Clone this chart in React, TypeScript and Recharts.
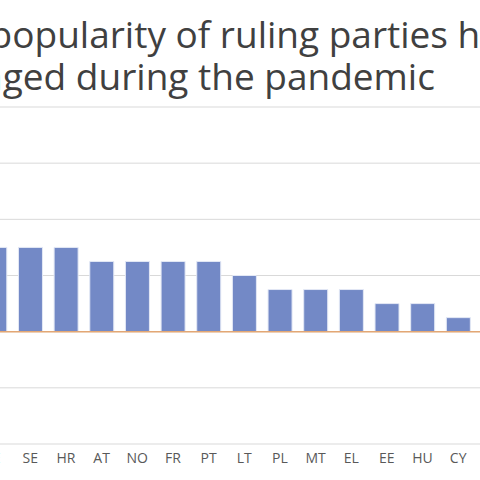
import React from 'react'
import { BarChart, Bar, XAxis, YAxis, CartesianGrid, ReferenceLine } from 'recharts';

// change in ruling party support, by country
const countries = ['IE', 'SE', 'HR', 'AT', 'NO', 'FR', 'PT', 'LT', 'PL', 'MT', 'EL', 'EE', 'HU', 'CY'];
const change = [6, 6, 6, 5, 5, 5, 5, 4, 3, 3, 3, 2, 2, 1];
const yTicks = [-8, -4, 0, 4, 8, 12, 16];

const data = countries.map((c, i) => ({ country: c, change: change[i] }));

const App: React.FC = () => {
  return (
    <div style={{ position: 'fixed', left: 0, top: 0, width: 480, height: 480, overflow: 'hidden', background: '#fff' }}>
      <div style={{ position: 'absolute', left: -40, top: 0 }}>
        <BarChart width={540} height={480} data={data} margin={{ top: 107, right: 0, bottom: 0, left: 0 }} barSize={24}>
          <CartesianGrid horizontal vertical={false} stroke='#d9d9d9' />
          <XAxis
            dataKey='country'
            axisLine={false}
            tickLine={false}
            tickMargin={3}
            height={36}
            interval={0}
            padding={{ left: 16.8, right: 24 }}
            tick={{ fill: '#595959', fontSize: 14, fontFamily: 'Open Sans' }}
          />
          <YAxis hide domain={[-8, 16]} ticks={yTicks} width={0} />
          <ReferenceLine y={0} stroke='#e3a774' strokeWidth={1.5} />
          <Bar dataKey='change' fill='#7389c6' stroke='#e3e8f5' strokeWidth={1} isAnimationActive={false} />
        </BarChart>
      </div>
      <div
        style={{
          position: 'absolute',
          left: 177 - 400,
          top: 12.5,
          width: 800,
          textAlign: 'center',
          fontFamily: 'Open Sans',
          fontSize: 37,
          lineHeight: '42px',
          color: '#404040',
        }}
      >
        How the popularity of ruling parties has
        <br />
        changed during the pandemic
      </div>
    </div>
  )
}

export default App
